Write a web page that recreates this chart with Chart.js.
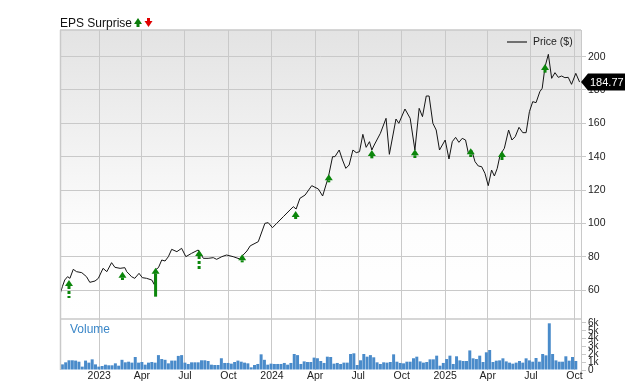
<!DOCTYPE html>
<html lang="en">
<head>
<meta charset="UTF-8">
<title>EPS Surprise</title>
<script src="https://cdn.jsdelivr.net/npm/chart.js"></script>
<style>
  html, body { margin: 0; padding: 0; background: #fff; }
  #wrap { width: 640px; height: 382px; }
</style>
</head>
<body>
<div id="wrap"><canvas id="priceChart"></canvas></div>
<script>
// all days are counted from 2023-01-01
const priceDays = [-83, -78, -73, -67, -62, -55, -48, -37, -27, -20, -9, -2, 8, 16, 26, 33, 44, 54, 58, 65,
  68, 75, 84, 91, 100, 111, 116, 118, 125, 132, 139, 146, 153, 164, 174, 183, 195, 209, 220, 230,
  241, 248, 259, 269, 283, 297, 304, 312, 319, 336, 350, 357, 366, 375, 389, 410, 416, 424, 435, 449,
  463, 472, 479, 484, 493, 498, 507, 514, 521, 528, 536, 543, 550, 557, 564, 571, 576, 581, 594, 606,
  613, 627, 633, 646, 657, 667, 676, 683, 691, 697, 705, 712, 719, 731, 739, 746, 753, 760, 767, 774,
  780, 787, 794, 801, 808, 815, 822, 829, 835, 841, 847, 856, 865, 872, 879, 887, 895, 902, 909, 916,
  923, 931, 936, 942, 949, 956, 963, 970, 977, 984, 991, 998, 1007, 1015];
const priceValues = [57.4, 62, 66, 68, 67, 72.4, 71, 70.4, 68, 64.6, 65.4, 67, 73, 71, 76.4, 73.6, 73, 73.4, 71, 69,
  68, 67, 70, 67.4, 67, 66, 63.4, 72, 73.4, 78, 77.4, 80, 84.4, 83, 85, 80, 82, 84, 79, 79,
  79.4, 78.4, 80, 81, 80, 78.6, 81, 83.4, 86.5, 89, 100, 100.4, 97.4, 100, 104, 110, 108.6, 115, 117, 122.6,
  120.6, 116.4, 123, 127.6, 140, 140, 144, 138, 133, 135, 144, 142.4, 143, 153.4, 145.6, 149, 144, 147, 154, 163,
  141.4, 162.6, 160, 168.6, 163, 144, 169, 164, 176.4, 176.4, 160, 156, 144, 150, 138.6, 149, 151.6, 148.6, 151, 150,
  142, 144, 137, 134.4, 134, 130, 122.6, 132, 128.4, 133, 141, 145, 156, 150, 152, 157.6, 154.4, 154.4, 167, 173,
  172.4, 179, 181, 194, 201.4, 187, 190.4, 187.6, 188.4, 187.4, 187.6, 183.4, 190, 184.77];

// EPS surprise arrows: tip price and end of the stem
const epsDays = [-64, 49, 119, 211, 302, 415, 485, 576, 667, 785, 851, 942];
const epsTop = [66.0, 71.0, 73.4, 84.0, 81.4, 107.4, 129.4, 144.0, 144.4, 145.0, 143.4, 195.6];
const epsBase = [55.2, 66.0, 56.0, 72.6, 76.8, 102.6, 125.6, 139.0, 139.2, 139.8, 138.0, 190.4];

// weekly volume, thousands
const volumeFirstDay = -78;
const volumeValues = [0.72, 0.98, 1.24, 1.24, 1.2, 1.06, 0.43, 1.2, 0.94, 1.36, 0.72, 0.43, 0.51, 0.68, 0.6, 0.6, 0.85, 0.55, 1.3, 0.98,
  1.06, 0.94, 1.66, 0.94, 1.02, 0.68, 0.94, 1.02, 0.94, 1.9, 1.4, 1.3, 0.85, 1.2, 1.2, 1.8, 1.9, 0.94, 0.77, 0.98,
  0.98, 0.98, 1.24, 1.24, 1.15, 0.68, 0.64, 0.64, 1.5, 0.9, 0.9, 0.81, 1.02,
  1.2, 1.06, 0.94, 0.85, 0.34, 0.64, 0.77, 2.0, 1.3, 0.68, 0.81, 0.77, 0.77, 0.77, 0.9, 0.68, 0.9, 2.04, 1.9, 0.77,
  1.1, 1.02, 1.02, 1.58, 1.5, 1.15, 0.9, 1.7, 1.66, 0.81, 0.9, 0.77, 0.94, 0.94, 2.04, 2.13, 0.64, 1.24, 2.04, 1.7,
  1.9, 1.62, 0.98, 0.77, 0.98, 0.94, 1.02, 2.0, 1.06, 0.9, 0.85, 1.06, 1.06, 1.5,
  1.7, 1.1, 0.94, 1.02, 1.36, 1.36, 1.83, 0.55, 0.9, 1.4, 1.83, 0.77, 1.75, 1.23, 1.15, 1.15, 2.5, 1.49, 1.4, 1.83,
  1.02, 2.26, 2.55, 1.02, 1.19, 1.23, 1.49, 1.1, 0.94, 0.81, 0.94, 1.15, 0.94, 1.49, 1.23, 1.06, 1.53, 1.06, 2.04, 1.87,
  5.96, 2.04, 1.23, 1.06, 1.06, 1.75, 1.19, 1.66, 1.15];

const tickDays = [0, 90, 181, 273, 365, 456, 547, 639, 731, 821, 912, 1004];
const tickLabels = ['2023', 'Apr', 'Jul', 'Oct', '2024', 'Apr', 'Jul', 'Oct', '2025', 'Apr', 'Jul', 'Oct'];
const priceTicks = [60, 80, 100, 120, 140, 160, 180, 200];
const volumeTicks = [0, 1, 2, 3, 4, 5, 6];

const FONT = '"Liberation Sans", Arial, sans-serif';
const GRID = '#c9c9c9';
const dashedStems = [0, 3];   // long dashed stems, the rest are solid

const ctx = document.getElementById('priceChart').getContext('2d');
const lastPrice = priceValues[priceValues.length - 1];

// up arrow (tip at yTip, stem down to yEnd); if yEnd < yTip it points down
function drawArrow(ctx, x, yTip, yEnd, color, dashed) {
  const dir = yEnd >= yTip ? 1 : -1;
  const headH = 6, headW = 4;
  ctx.save();
  ctx.fillStyle = color;
  ctx.strokeStyle = color;
  ctx.beginPath();
  ctx.moveTo(x, yTip);
  ctx.lineTo(x + headW, yTip + dir * headH);
  ctx.lineTo(x - headW, yTip + dir * headH);
  ctx.closePath();
  ctx.fill();
  const s = yTip + dir * headH;
  if (Math.abs(yEnd - s) > 0) {
    ctx.lineWidth = 3;
    ctx.setLineDash(dashed ? [3, 2] : []);
    ctx.beginPath();
    ctx.moveTo(x, s);
    ctx.lineTo(x, yEnd);
    ctx.stroke();
  }
  ctx.restore();
}

// panel background, borders, title, legend and last price tag
const panelPlugin = {
  id: 'panels',
  beforeDraw(chart) {
    const { ctx, chartArea: a, scales } = chart;
    const p = scales.yPrice;
    ctx.save();
    const g = ctx.createLinearGradient(0, p.top, 0, p.bottom);
    g.addColorStop(0, '#e3e3e3');
    g.addColorStop(0.7, '#fdfdfd');
    g.addColorStop(1, '#ffffff');
    ctx.fillStyle = g;
    ctx.fillRect(a.left, p.top, a.right - a.left, p.bottom - p.top);
    ctx.restore();
  },
  afterDraw(chart) {
    const { ctx, chartArea: a, scales } = chart;
    const p = scales.yPrice;
    ctx.save();
    ctx.strokeStyle = GRID;
    ctx.lineWidth = 1.5;
    ctx.beginPath();
    ctx.moveTo(a.left, a.top); ctx.lineTo(a.right, a.top);
    ctx.moveTo(a.left, p.bottom); ctx.lineTo(a.right, p.bottom);
    ctx.moveTo(a.left + 0.5, a.top); ctx.lineTo(a.left + 0.5, a.bottom);
    ctx.stroke();

    // title with arrows
    ctx.fillStyle = '#111';
    ctx.font = '12px ' + FONT;
    ctx.textBaseline = 'alphabetic';
    ctx.fillText('EPS Surprise', a.left, 27);
    drawArrow(ctx, 138, 18, 27, '#0b7d0b', false);
    drawArrow(ctx, 148.5, 27, 18, '#e00000', false);

    // legend
    ctx.fillStyle = '#707070';
    ctx.fillRect(a.right - 74, 41, 20, 2);
    ctx.fillStyle = '#222';
    ctx.font = '10.5px ' + FONT;
    ctx.textBaseline = 'middle';
    ctx.fillText('Price ($)', a.right - 48, 42);

    // volume label
    ctx.fillStyle = '#3b87c8';
    ctx.font = '12px ' + FONT;
    ctx.fillText('Volume', a.left + 10, p.bottom + 11);

    // last price tag
    const y = p.getPixelForValue(lastPrice);
    const x0 = a.right;
    ctx.fillStyle = '#000';
    ctx.beginPath();
    ctx.moveTo(x0, y);
    ctx.lineTo(x0 + 7, y - 8.5);
    ctx.lineTo(x0 + 44, y - 8.5);
    ctx.lineTo(x0 + 44, y + 8.5);
    ctx.lineTo(x0 + 7, y + 8.5);
    ctx.closePath();
    ctx.fill();
    ctx.fillStyle = '#fff';
    ctx.font = '11px ' + FONT;
    ctx.fillText(lastPrice.toFixed(2), x0 + 9, y + 0.5);
    ctx.restore();
  }
};

const epsPlugin = {
  id: 'eps',
  afterDatasetsDraw(chart) {
    const { ctx, scales } = chart;
    epsDays.forEach((d, i) => {
      const x = scales.x.getPixelForValue(d);
      const yTip = scales.yPrice.getPixelForValue(epsTop[i]);
      const yEnd = scales.yPrice.getPixelForValue(epsBase[i]);
      drawArrow(ctx, x, yTip, Math.max(yEnd, yTip + 8), '#0b860b', dashedStems.includes(i));
    });
  }
};

new Chart(ctx, {
  data: {
    datasets: [
      {
        type: 'line', label: 'Price ($)',
        data: priceDays.map((d, i) => ({ x: d, y: priceValues[i] })),
        borderColor: '#151515', borderWidth: 1, pointRadius: 0, tension: 0,
        yAxisID: 'yPrice'
      },
      {
        type: 'bar', label: 'Volume',
        data: volumeValues.map((v, i) => ({ x: volumeFirstDay + 7 * i, y: v })),
        backgroundColor: '#4a8bca', borderWidth: 0,
        barPercentage: 0.9, categoryPercentage: 1,
        yAxisID: 'yVol'
      }
    ]
  },
  options: {
    responsive: true,
    maintainAspectRatio: false,
    animation: false,
    layout: { padding: { left: 60, top: 30, right: 0, bottom: 0 } },
    scales: {
      x: {
        type: 'linear', min: -83, max: 1018, offset: false,
        afterBuildTicks: s => { s.ticks = tickDays.map(v => ({ value: v })); },
        afterFit: s => { s.height = 12; },
        ticks: {
          autoSkip: false, maxRotation: 0, padding: 0, color: '#222',
          font: { family: FONT, size: 10.5 },
          callback: v => tickLabels[tickDays.indexOf(v)]
        },
        grid: { color: GRID, drawTicks: false, offset: false },
        border: { display: false }
      },
      yPrice: {
        type: 'linear', position: 'right', stack: 'v', stackWeight: 289,
        min: 42.6, max: 216,
        afterBuildTicks: s => { s.ticks = priceTicks.map(v => ({ value: v })); },
        afterFit: s => { s.width = 59; },
        ticks: { color: '#222', padding: 2, font: { family: FONT, size: 10.5 } },
        grid: { color: GRID, tickLength: 5 },
        border: { display: true, color: GRID }
      },
      yVol: {
        type: 'linear', position: 'right', stack: 'v', stackWeight: 51,
        min: 0, max: 6.51,
        afterBuildTicks: s => { s.ticks = volumeTicks.map(v => ({ value: v })); },
        afterFit: s => { s.width = 59; },
        ticks: {
          color: '#222', padding: 2, autoSkip: false,
          font: { family: FONT, size: 10 },
          callback: v => (v === 0 ? '0' : v + 'k')
        },
        grid: { color: GRID, tickLength: 5, drawOnChartArea: false },
        border: { display: true, color: GRID }
      }
    },
    plugins: {
      title: { display: false },
      tooltip: { enabled: false },
      legend: { display: false }
    }
  },
  plugins: [panelPlugin, epsPlugin]
});
</script>
</body>
</html>
